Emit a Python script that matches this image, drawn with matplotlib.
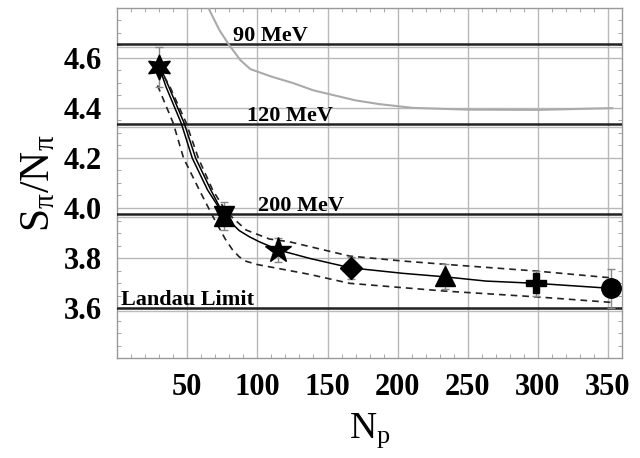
import numpy as np
import matplotlib
matplotlib.use('Agg')
import matplotlib.pyplot as plt
from matplotlib.ticker import MultipleLocator

plt.rcParams['font.family'] = ['Liberation Serif', 'DejaVu Serif']
plt.rcParams['mathtext.fontset'] = 'custom'
plt.rcParams['mathtext.rm'] = 'Liberation Serif'
plt.rcParams['mathtext.it'] = 'Liberation Serif:italic'

######################################################
# Data
n_part = [30, 76.4, 115, 166.5, 233.6, 298.6, 351.9]
ratio = [4.564, 3.968, 3.832, 3.761, 3.727, 3.699, 3.679]
ratio_err = [0.08, 0.056, 0.047, 0.045, 0.05, 0.05, 0.078]
markers = ['six', 'david', '*', 'D', '^', 'P', 'o']

# fit curve (solid, doubled near the first points) and band (dashed)
fit_n = [30, 34.8, 45.7, 53.6, 64.5, 76.4, 87, 94.3, 101.4, 115.2, 137, 166.4, 203.6, 233.6, 263, 298.6, 351.9]
fit_v = [4.564, 4.485, 4.339, 4.199, 4.072, 3.968, 3.91, 3.885, 3.865, 3.832, 3.799, 3.761, 3.739, 3.725, 3.708, 3.699, 3.679]
fit2_n = [31, 36.8, 47.8, 56.0, 66.8, 76.4]
fit2_v = [4.56, 4.485, 4.339, 4.199, 4.072, 3.968]
upper_n = [33.6, 37.6, 49.3, 57.9, 68.1, 77.9, 92, 108.6, 122.9, 165.7, 203.8, 233.6, 299, 352]
upper_v = [4.525, 4.485, 4.339, 4.199, 4.072, 3.984, 3.912, 3.876, 3.865, 3.808, 3.788, 3.775, 3.748, 3.721]
lower_n = [28.8, 40, 47.4, 58.6, 68.1, 77.1, 82, 87, 92, 100, 108.6, 137, 165.7, 233.6, 298.6, 352]
lower_v = [4.49, 4.339, 4.199, 4.072, 3.968, 3.876, 3.835, 3.805, 3.787, 3.774, 3.765, 3.735, 3.699, 3.668, 3.645, 3.623]

# gray curve
gray_n = [65, 73, 80, 88, 95, 110, 125, 140, 155, 170, 187, 211, 250, 300, 353]
gray_v = [4.80, 4.71, 4.65, 4.59, 4.555, 4.525, 4.50, 4.47, 4.45, 4.43, 4.415, 4.40, 4.393, 4.392, 4.399]

# horizontal reference lines
levels = [4.655, 4.335, 3.975, 3.60]
level_labels = ['90 MeV', '120 MeV', '200 MeV', 'Landau Limit']
label_x = [109, 123, 131, 3]

######################################################
fig = plt.figure(figsize=(6.4, 4.58), dpi=100)
ax = fig.add_axes([0.183, 0.218, 0.789, 0.765])

ax.set_xlim(0, 360)
ax.set_ylim(3.4, 4.8)
ax.xaxis.set_major_locator(MultipleLocator(50))
ax.xaxis.set_minor_locator(MultipleLocator(10))
ax.yaxis.set_major_locator(MultipleLocator(0.2))
ax.yaxis.set_minor_locator(MultipleLocator(0.05))
ax.grid(True, which='major', color='#b8b8b8', lw=1)
ax.tick_params(which='major', length=0, labelsize=22)
ax.tick_params(axis='x', which='major', pad=11)
ax.tick_params(axis='y', which='major', pad=11)
ax.tick_params(which='minor', direction='in', length=3, color='#999999',
               top=True, right=True)
ax.set_xticks([50, 100, 150, 200, 250, 300, 350])
ax.set_xticklabels(['50', '100', '150', '200', '250', '300', '350'], fontweight='bold')
ax.set_yticks([3.6, 3.8, 4.0, 4.2, 4.4, 4.6])
ax.set_yticklabels(['3.6', '3.8', '4.0', '4.2', '4.4', '4.6'], fontweight='bold')
for s in ax.spines.values():
    s.set_color('#999999')
    s.set_linewidth(1)

# reference levels
for lev, txt, lx in zip(levels, level_labels, label_x):
    ax.axhline(lev - 0.011, color='#bbbbbb', lw=1, zorder=2)
    ax.axhline(lev, color='#222222', lw=1.8, zorder=3)
    ha = 'left' if txt == 'Landau Limit' else 'center'
    ax.text(lx, lev + 0.014, txt, ha=ha, va='baseline', fontsize=16,
            fontweight='bold', zorder=4)

ax.plot(gray_n, gray_v, color='#aaaaaa', lw=1.5, zorder=3)

ax.plot(fit_n, fit_v, color='black', lw=1.1, zorder=4)
ax.plot(fit2_n, fit2_v, color='black', lw=1.1, zorder=4)
ax.plot(upper_n, upper_v, color='#222222', lw=1.2, ls=(0, (4, 3)), zorder=4)
ax.plot(lower_n, lower_v, color='#222222', lw=1.2, ls=(0, (4, 3)), zorder=4)

ax.errorbar(n_part, ratio, yerr=ratio_err, fmt='none', ecolor='#888888',
            elinewidth=1, capsize=3, zorder=5)

sizes = {'six': 18, 'david': 14, '*': 19, 'D': 11, '^': 15, 'P': 15, 'o': 14}
for x, y, m in zip(n_part, ratio, markers):
    if m == 'six':
        ax.plot(x, y, marker=(6, 1, 0), ms=sizes[m], color='black', zorder=6)
    elif m == 'david':
        ax.plot(x, y, marker='^', ms=sizes[m], color='black', zorder=6)
        ax.plot(x, y, marker='v', ms=sizes[m], color='black', zorder=6)
    else:
        ax.plot(x, y, marker=m, ms=sizes[m], color='black', zorder=6)

ax.set_xlabel(r'N$_\mathrm{p}$', fontsize=27, labelpad=6)
ax.set_ylabel(r'S$_\mathrm{π}$/N$_\mathrm{π}$', fontsize=30, labelpad=4)

fig.savefig('out.png', dpi=100)
